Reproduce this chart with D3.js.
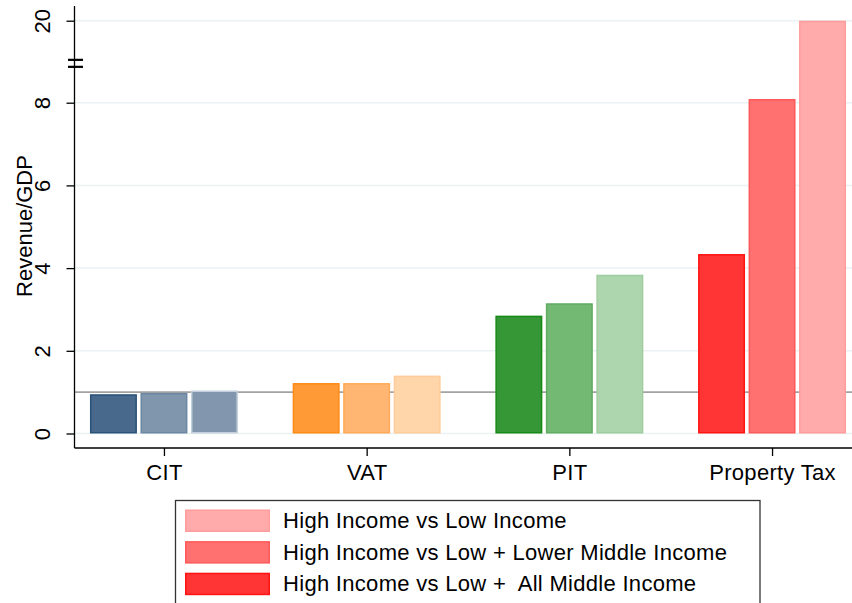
<!DOCTYPE html>
<html>
<head>
<meta charset="utf-8">
<script src="https://cdn.jsdelivr.net/npm/d3@7"></script>
<style>
  body { margin: 0; background: #fff; }
  svg { display: block; font-family: "Liberation Sans", Arial, Helvetica, sans-serif; }
  text { white-space: pre; }
</style>
</head>
<body>
<figure id="chart" style="margin:0"></figure>
<script>
// data
const categories = ["CIT", "VAT", "PIT", "Property Tax"];
const allMiddle = [0.95, 1.22, 2.85, 4.34];     // High vs Low + All Middle
const lowerMiddle = [0.98, 1.22, 3.15, 8.09];   // High vs Low + Lower Middle
const lowOnly = [1.04, 1.40, 3.84, 20];         // High vs Low
const yTicks = [0, 2, 4, 6, 8, 20];
const refValue = 1;
const legendLabels = [
  "High Income vs Low Income",
  "High Income vs Low + Lower Middle Income",
  "High Income vs Low +  All Middle Income"
];

const series = [allMiddle, lowerMiddle, lowOnly];

// fill / outline per category, dark -> light
const fills = [
  ["#48698b", "#7f96ad", "#8297ad"],
  ["#ff9a36", "#ffb672", "#ffd5aa"],
  ["#359735", "#73b873", "#aed6ae"],
  ["#ff3434", "#ff7070", "#ffabab"]
];
const strokes = [
  ["#29527a", "#6c87a2", "#c3cfdb"],
  ["#ff8a14", "#ffaa58", "#ffcc9a"],
  ["#178917", "#60ac60", "#9fcd9f"],
  ["#ff1414", "#ff5a5a", "#ff9c9c"]
];

const width = 852, height = 603;
const axisX = 74.5, axisY = 448;

const svg = d3.select("figure#chart")
  .append("svg")
  .attr("width", width)
  .attr("height", height);

// broken axis: 0..9 linear, then jump so that 20 sits one tick step above 8
const y = d3.scaleLinear()
  .domain([0, 9, 20])
  .range([433.5, 61.35, 20.7]);

const x = d3.scaleBand()
  .domain(categories)
  .range([62.6, 873.4])
  .paddingInner(0.27)
  .paddingOuter(0.135);

const xInner = d3.scaleBand()
  .domain([0, 1, 2])
  .range([0, x.bandwidth()])
  .paddingInner(0.07);

// gridlines
svg.append("g")
  .selectAll("line")
  .data(yTicks)
  .enter()
  .append("line")
  .attr("x1", axisX)
  .attr("x2", width)
  .attr("y1", d => y(d))
  .attr("y2", d => y(d))
  .attr("stroke", "#eaf2f3")
  .attr("stroke-width", 1.5);

// reference line at 1
svg.append("line")
  .attr("x1", axisX)
  .attr("x2", width)
  .attr("y1", y(refValue))
  .attr("y2", y(refValue))
  .attr("stroke", "#a3a3a3")
  .attr("stroke-width", 1.8);

// bars
const groups = svg.selectAll("g.cat")
  .data(categories)
  .enter()
  .append("g")
  .attr("class", "cat")
  .attr("transform", d => "translate(" + x(d) + ",0)");

groups.selectAll("rect")
  .data((c, ci) => series.map((s, si) => ({ci: ci, si: si, v: s[ci]})))
  .enter()
  .append("rect")
  .attr("x", d => xInner(d.si) + 0.75)
  .attr("width", xInner.bandwidth() - 1.5)
  .attr("y", d => y(d.v) + 0.75)
  .attr("height", d => y(0) - y(d.v) - 1.5)
  .attr("fill", d => fills[d.ci][d.si])
  .attr("stroke", d => strokes[d.ci][d.si])
  .attr("stroke-width", 1.5);

// y axis
const yAxis = svg.append("g")
  .attr("transform", "translate(" + axisX + ",0)")
  .call(d3.axisLeft(y).tickValues(yTicks).tickSize(8).tickSizeOuter(0).tickFormat(d3.format("d")));
yAxis.select(".domain").remove();
yAxis.selectAll(".tick line").attr("stroke", "#000").attr("stroke-width", 1.3);
yAxis.selectAll(".tick text")
  .attr("x", null).attr("dy", null)
  .attr("text-anchor", "middle")
  .attr("transform", "translate(-24.5,0) rotate(-90)")
  .style("font-size", "22px")
  .attr("fill", "#000");

svg.append("line")
  .attr("x1", axisX).attr("x2", axisX)
  .attr("y1", 6).attr("y2", axisY)
  .attr("stroke", "#000").attr("stroke-width", 1.3);

// axis break marks
const yBreak = y(9) + 2;
svg.append("g")
  .selectAll("line")
  .data([-3.5, 3.5])
  .enter()
  .append("line")
  .attr("x1", 68).attr("x2", 83)
  .attr("y1", d => yBreak + d).attr("y2", d => yBreak + d)
  .attr("stroke", "#000").attr("stroke-width", 2.2);

// x axis
const xAxis = svg.append("g")
  .attr("transform", "translate(0," + axisY + ")")
  .call(d3.axisBottom(d3.scalePoint().domain(categories)
      .range([x(categories[0]) + x.bandwidth() / 2, x(categories[3]) + x.bandwidth() / 2]))
    .tickSize(8).tickSizeOuter(0));
xAxis.select(".domain").remove();
xAxis.selectAll(".tick line").attr("stroke", "#000").attr("stroke-width", 1.3);
xAxis.selectAll(".tick text")
  .attr("y", 32).attr("dy", null)
  .style("font-size", "22px")
  .style("letter-spacing", "0.3px")
  .attr("fill", "#000");

svg.append("line")
  .attr("x1", axisX).attr("x2", width)
  .attr("y1", axisY).attr("y2", axisY)
  .attr("stroke", "#000").attr("stroke-width", 1.3);

// y title
svg.append("text")
  .attr("transform", "translate(32,226) rotate(-90)")
  .attr("text-anchor", "middle")
  .style("font-size", "22px")
  .text("Revenue/GDP");

// legend (only the property tax shades, light first)
const legend = svg.append("g");
legend.append("rect")
  .attr("x", 175.5).attr("y", 500.5)
  .attr("width", 584.5).attr("height", 120)
  .attr("fill", "#fff")
  .attr("stroke", "#333").attr("stroke-width", 1.3);

const legendRows = legend.selectAll("g.row")
  .data(legendLabels)
  .enter()
  .append("g")
  .attr("class", "row")
  .attr("transform", (d, i) => "translate(0," + (509.5 + i * 31.6) + ")");

legendRows.append("rect")
  .attr("x", 185.75).attr("y", 0.75)
  .attr("width", 83.5).attr("height", 21)
  .attr("fill", (d, i) => fills[3][2 - i])
  .attr("stroke", (d, i) => strokes[3][2 - i])
  .attr("stroke-width", 1.5);

legendRows.append("text")
  .attr("x", 283).attr("y", 18.5)
  .style("font-size", "22px")
  .style("letter-spacing", "0.3px")
  .text(d => d);
</script>
</body>
</html>
